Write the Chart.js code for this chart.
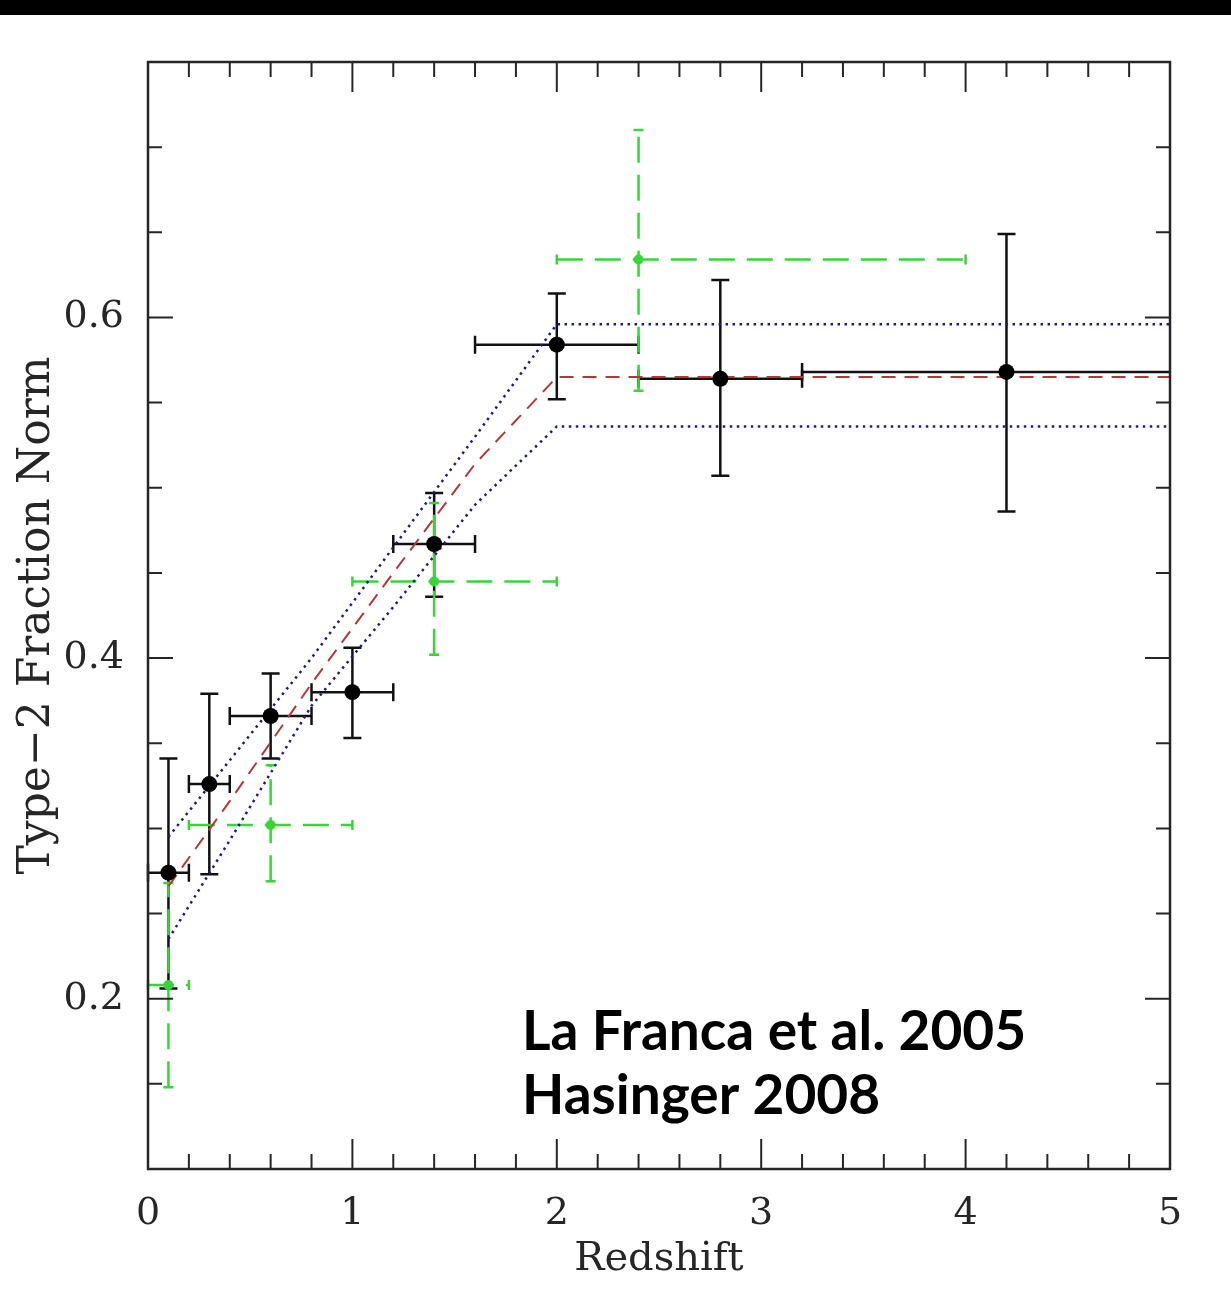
<!DOCTYPE html>
<html>
<head>
<meta charset="utf-8">
<script src="https://cdn.jsdelivr.net/npm/chart.js@4.4.1/dist/chart.umd.min.js"></script>
<style>
    html, body { margin: 0; padding: 0; background: #fff; }
    #wrap { position: relative; width: 1231px; height: 1310px; }
    #topbar { position: absolute; left: 0; top: 0; width: 1231px; height: 15px; background: #000; }
    canvas { position: absolute; left: 0; top: 0; }
</style>
</head>
<body>
<div id="wrap">
    <canvas id="chart" width="1231" height="1310"></canvas>
    <div id="topbar"></div>
</div>
<script>
// Hasinger 2008 (black points)
const hasZ = [0.1, 0.3, 0.6, 1.0, 1.4, 2.0, 2.8, 4.2];
const hasFrac = [0.274, 0.326, 0.366, 0.380, 0.467, 0.584, 0.564, 0.568];
const hasZLo = [0.0, 0.2, 0.4, 0.8, 1.2, 1.6, 2.4, 3.2];
const hasZHi = [0.2, 0.4, 0.8, 1.2, 1.6, 2.4, 3.2, 5.2];
const hasFracLo = [0.206, 0.273, 0.341, 0.353, 0.436, 0.552, 0.507, 0.486];
const hasFracHi = [0.341, 0.379, 0.391, 0.406, 0.497, 0.614, 0.622, 0.649];

// La Franca et al. 2005 (green points)
const lfZ = [0.1, 0.6, 1.4, 2.4];
const lfFrac = [0.208, 0.302, 0.445, 0.634];
const lfZLo = [0.0, 0.2, 1.0, 2.0];
const lfZHi = [0.2, 1.0, 2.0, 4.0];
const lfFracLo = [0.148, 0.269, 0.402, 0.557];
const lfFracHi = [0.268, 0.337, 0.491, 0.710];

// best fit and its upper / lower envelope
const fitZ = [0.1, 0.4, 0.8, 1.2, 1.6, 2.0, 5.0];
const fitFrac = [0.266, 0.316, 0.385, 0.450, 0.514, 0.565, 0.565];
const fitUpper = [0.295, 0.340, 0.400, 0.465, 0.530, 0.596, 0.596];
const fitLower = [0.235, 0.293, 0.372, 0.430, 0.490, 0.536, 0.536];

// axes
const xTickLabels = [0, 1, 2, 3, 4, 5];
const xMinorTicks = [0.2, 0.4, 0.6, 0.8, 1.2, 1.4, 1.6, 1.8, 2.2, 2.4, 2.6, 2.8, 3.2, 3.4, 3.6, 3.8, 4.2, 4.4, 4.6, 4.8];
const yTickLabels = [0.2, 0.4, 0.6];
const yMinorTicks = [0.15, 0.25, 0.3, 0.35, 0.45, 0.5, 0.55, 0.65, 0.7];

const annotationLines = ["La Franca et al. 2005", "Hasinger 2008"];

const GREEN = "rgb(58, 212, 58)";
const RED = "rgb(180, 55, 55)";
const NAVY = "rgb(30, 30, 115)";
const INK = "#262626";

const toPoints = (xs, ys) => xs.map((x, i) => ({x: x, y: ys[i]}));

const frameTicks = {
    id: "frameTicks",
    afterDatasetsDraw(chart) {
        const {ctx, chartArea: a, scales: {x, y}} = chart;
        ctx.save();
        ctx.strokeStyle = INK;
        ctx.lineWidth = 2.5;
        ctx.strokeRect(a.left, a.top, a.right - a.left, a.bottom - a.top);
        ctx.lineWidth = 2;
        const xt = (v, len) => {
            const px = x.getPixelForValue(v);
            ctx.beginPath();
            ctx.moveTo(px, a.bottom); ctx.lineTo(px, a.bottom - len);
            ctx.moveTo(px, a.top); ctx.lineTo(px, a.top + len);
            ctx.stroke();
        };
        const yt = (v, len) => {
            const py = y.getPixelForValue(v);
            ctx.beginPath();
            ctx.moveTo(a.left, py); ctx.lineTo(a.left + len, py);
            ctx.moveTo(a.right, py); ctx.lineTo(a.right - len, py);
            ctx.stroke();
        };
        xTickLabels.forEach(v => xt(v, 30));
        xMinorTicks.forEach(v => xt(v, 15));
        yTickLabels.forEach(v => yt(v, 25));
        yMinorTicks.forEach(v => yt(v, 14));
        ctx.restore();
    }
};

function drawErrorBars(ctx, x, y, zs, fs, zlo, zhi, flo, fhi, style) {
    ctx.strokeStyle = style.color;
    ctx.lineWidth = style.width;
    zs.forEach((z, i) => {
        const px = x.getPixelForValue(z);
        const py = y.getPixelForValue(fs[i]);
        const x0 = x.getPixelForValue(zlo[i]);
        const x1 = x.getPixelForValue(zhi[i]);
        const y0 = y.getPixelForValue(flo[i]);
        const y1 = y.getPixelForValue(fhi[i]);
        ctx.setLineDash(style.dash);
        ctx.beginPath();
        ctx.moveTo(x0, py); ctx.lineTo(x1, py);
        ctx.moveTo(px, y0); ctx.lineTo(px, y1);
        ctx.stroke();
        ctx.setLineDash([]);
        ctx.beginPath();
        ctx.moveTo(x0, py - style.cap); ctx.lineTo(x0, py + style.cap);
        ctx.moveTo(x1, py - style.cap); ctx.lineTo(x1, py + style.cap);
        ctx.moveTo(px - style.cap, y0); ctx.lineTo(px + style.cap, y0);
        ctx.moveTo(px - style.cap, y1); ctx.lineTo(px + style.cap, y1);
        ctx.stroke();
    });
}

const errorBars = {
    id: "errorBars",
    beforeDatasetsDraw(chart) {
        const {ctx, chartArea: a, scales: {x, y}} = chart;
        ctx.save();
        ctx.beginPath();
        ctx.rect(a.left - 12, a.top, a.right - a.left + 12, a.bottom - a.top);
        ctx.clip();
        drawErrorBars(ctx, x, y, hasZ, hasFrac, hasZLo, hasZHi, hasFracLo, hasFracHi,
            {color: "#111", width: 2.5, dash: [], cap: 9});
        drawErrorBars(ctx, x, y, lfZ, lfFrac, lfZLo, lfZHi, lfFracLo, lfFracHi,
            {color: GREEN, width: 2.5, dash: [26, 12], cap: 5});
        ctx.restore();
    }
};

const annotation = {
    id: "annotation",
    afterDraw(chart) {
        const ctx = chart.ctx;
        ctx.save();
        ctx.fillStyle = "#000";
        ctx.font = "bold 55px Lato";
        ctx.textBaseline = "alphabetic";
        ctx.textAlign = "left";
        annotationLines.forEach((t, i) => ctx.fillText(t, 522, 1050 + i * 64));
        ctx.restore();
    }
};

const tickFont = {family: "'DejaVu Serif'", size: 38};
const titleFont = {family: "'DejaVu Serif'", size: 40, lineHeight: 1};

new Chart(document.getElementById("chart").getContext("2d"), {
    type: "scatter",
    data: {
        datasets: [
            {
                label: "Hasinger 2008",
                data: toPoints(hasZ, hasFrac),
                backgroundColor: "#000",
                borderWidth: 0,
                pointRadius: 8,
                order: 1,
            },
            {
                label: "La Franca et al. 2005",
                data: toPoints(lfZ, lfFrac),
                backgroundColor: GREEN,
                borderWidth: 0,
                pointRadius: 5,
                order: 2,
            },
            {
                label: "fit",
                data: toPoints(fitZ, fitFrac),
                showLine: true,
                borderColor: RED,
                borderWidth: 2,
                borderDash: [14, 9],
                pointRadius: 0,
                tension: 0,
                order: 3,
            },
            {
                label: "upper",
                data: toPoints(fitZ, fitUpper),
                showLine: true,
                borderColor: NAVY,
                borderWidth: 2.5,
                borderDash: [2.5, 4.5],
                pointRadius: 0,
                tension: 0,
                order: 4,
            },
            {
                label: "lower",
                data: toPoints(fitZ, fitLower),
                showLine: true,
                borderColor: NAVY,
                borderWidth: 2.5,
                borderDash: [2.5, 4.5],
                pointRadius: 0,
                tension: 0,
                order: 4,
            },
        ],
    },
    options: {
        responsive: false,
        animation: false,
        events: [],
        layout: {padding: {left: 0, top: 62, right: 61, bottom: 0}},
        plugins: {legend: {display: false}, tooltip: {enabled: false}},
        scales: {
            x: {
                type: "linear",
                min: 0,
                max: 5,
                afterBuildTicks: s => { s.ticks = xTickLabels.map(v => ({value: v})); },
                afterFit: s => { s.height = 141; },
                grid: {display: false},
                border: {display: false},
                ticks: {font: tickFont, color: INK, padding: 14, maxRotation: 0, autoSkip: false,
                    callback: v => String(v)},
                title: {display: true, text: "Redshift", font: titleFont, color: INK,
                    padding: {top: 0, bottom: 30}},
            },
            y: {
                type: "linear",
                min: 0.1,
                max: 0.75,
                afterBuildTicks: s => { s.ticks = yTickLabels.map(v => ({value: v})); },
                afterFit: s => { s.width = 148; },
                grid: {display: false},
                border: {display: false},
                ticks: {font: tickFont, color: INK, padding: 16, autoSkip: false,
                    callback: v => v.toFixed(1)},
                title: {display: true, text: "Type\u22122 Fraction Norm",
                    font: {family: "'DejaVu Serif'", size: 44, lineHeight: 1}, color: INK,
                    padding: {top: 16, bottom: 0}},
            },
        },
    },
    plugins: [errorBars, frameTicks, annotation],
});
</script>
</body>
</html>
